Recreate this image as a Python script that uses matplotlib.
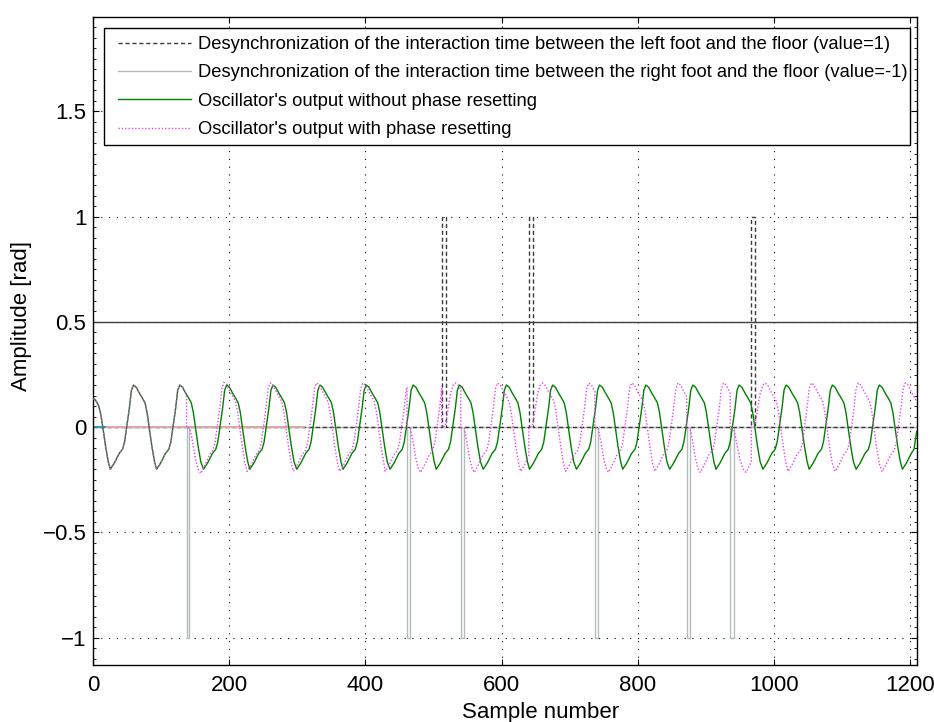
import matplotlib
matplotlib.use("Agg")
import matplotlib.pyplot as plt
from matplotlib.ticker import MultipleLocator
from matplotlib.patches import Rectangle

plt.rcParams['font.family'] = ['Liberation Sans', 'DejaVu Sans']

# ---------------- data ----------------
# desynchronization, left foot (value = 1)
left_x = [0, 512, 512, 518, 518, 640, 640, 646, 646, 967, 967, 973, 973, 1210]
left_y = [0, 0, 1, 1, 0, 0, 1, 1, 0, 0, 1, 1, 0, 0]

# desynchronization, right foot (value = -1)
right_x = [0, 137, 137, 141, 141, 461, 461, 466, 466, 540, 540, 545, 545,
           737, 737, 741, 741, 872, 872, 877, 877, 936, 936, 941, 941, 1210]
right_y = [0, 0, -1, -1, 0, 0, -1, -1, 0, 0, -1, -1, 0,
           0, -1, -1, 0, 0, -1, -1, 0, 0, -1, -1, 0, 0]

# horizontal reference at 0.5
ref_x = [0, 1210]
ref_y = [0.5, 0.5]

# short coloured traces lying on the zero line
cyan_x = [0, 17]
cyan_y = [0, 0]
pink_x = [17, 309]
pink_y = [0, 0]

# oscillator output without phase resetting (green)
green_x = [
    0, 2, 5, 8, 11, 14, 18, 22,
    25, 31, 38, 43, 46, 49, 53, 56, 59, 63, 68, 73, 76, 79, 82, 86, 90,
    93, 99, 106, 111, 114, 117, 121, 124, 127, 131, 136, 141, 144, 147, 150, 154, 158,
    162, 168, 175, 180, 183, 186, 190, 193, 196, 200, 205, 210, 213, 216, 219, 223, 227,
    230, 236, 243, 248, 251, 254, 258, 261, 264, 268, 273, 278, 281, 284, 287, 291, 295,
    299, 305, 312, 317, 320, 323, 327, 330, 333, 337, 342, 347, 350, 353, 356, 360, 364,
    367, 373, 380, 385, 388, 391, 395, 398, 401, 405, 410, 415, 418, 421, 424, 428, 432,
    436, 442, 449, 454, 457, 460, 464, 467, 470, 474, 479, 484, 487, 490, 493, 497, 501,
    504, 510, 517, 522, 525, 528, 532, 535, 538, 542, 547, 552, 555, 558, 561, 565, 569,
    573, 579, 586, 591, 594, 597, 601, 604, 607, 611, 616, 621, 624, 627, 630, 634, 638,
    641, 647, 654, 659, 662, 665, 669, 672, 675, 679, 684, 689, 692, 695, 698, 702, 706,
    710, 716, 723, 728, 731, 734, 738, 741, 744, 748, 753, 758, 761, 764, 767, 771, 775,
    778, 784, 791, 796, 799, 802, 806, 809, 812, 816, 821, 826, 829, 832, 835, 839, 843,
    847, 853, 860, 865, 868, 871, 875, 878, 881, 885, 890, 895, 898, 901, 904, 908, 912,
    915, 921, 928, 933, 936, 939, 943, 946, 949, 953, 958, 963, 966, 969, 972, 976, 980,
    984, 990, 997, 1002, 1005, 1008, 1012, 1015, 1018, 1022, 1027, 1032, 1035, 1038, 1041, 1045, 1049,
    1052, 1058, 1065, 1070, 1073, 1076, 1080, 1083, 1086, 1090, 1095, 1100, 1103, 1106, 1109, 1113, 1117,
    1121, 1127, 1134, 1139, 1142, 1145, 1149, 1152, 1155, 1159, 1164, 1169, 1172, 1175, 1178, 1182, 1186,
    1189, 1195, 1202, 1206, 1210,
]
green_y = [
    0.135, 0.133, 0.12, 0.10, 0.06, 0.0, -0.09, -0.165,
    -0.20, -0.17, -0.125, -0.105, -0.07, 0.0, 0.09, 0.175, 0.20, 0.19, 0.16, 0.133, 0.115, 0.07, 0.0, -0.09, -0.165,
    -0.20, -0.17, -0.125, -0.105, -0.07, 0.0, 0.09, 0.175, 0.20, 0.19, 0.16, 0.133, 0.115, 0.07, 0.0, -0.09, -0.165,
    -0.20, -0.17, -0.125, -0.105, -0.07, 0.0, 0.09, 0.175, 0.20, 0.19, 0.16, 0.133, 0.115, 0.07, 0.0, -0.09, -0.165,
    -0.20, -0.17, -0.125, -0.105, -0.07, 0.0, 0.09, 0.175, 0.20, 0.19, 0.16, 0.133, 0.115, 0.07, 0.0, -0.09, -0.165,
    -0.20, -0.17, -0.125, -0.105, -0.07, 0.0, 0.09, 0.175, 0.20, 0.19, 0.16, 0.133, 0.115, 0.07, 0.0, -0.09, -0.165,
    -0.20, -0.17, -0.125, -0.105, -0.07, 0.0, 0.09, 0.175, 0.20, 0.19, 0.16, 0.133, 0.115, 0.07, 0.0, -0.09, -0.165,
    -0.20, -0.17, -0.125, -0.105, -0.07, 0.0, 0.09, 0.175, 0.20, 0.19, 0.16, 0.133, 0.115, 0.07, 0.0, -0.09, -0.165,
    -0.20, -0.17, -0.125, -0.105, -0.07, 0.0, 0.09, 0.175, 0.20, 0.19, 0.16, 0.133, 0.115, 0.07, 0.0, -0.09, -0.165,
    -0.20, -0.17, -0.125, -0.105, -0.07, 0.0, 0.09, 0.175, 0.20, 0.19, 0.16, 0.133, 0.115, 0.07, 0.0, -0.09, -0.165,
    -0.20, -0.17, -0.125, -0.105, -0.07, 0.0, 0.09, 0.175, 0.20, 0.19, 0.16, 0.133, 0.115, 0.07, 0.0, -0.09, -0.165,
    -0.20, -0.17, -0.125, -0.105, -0.07, 0.0, 0.09, 0.175, 0.20, 0.19, 0.16, 0.133, 0.115, 0.07, 0.0, -0.09, -0.165,
    -0.20, -0.17, -0.125, -0.105, -0.07, 0.0, 0.09, 0.175, 0.20, 0.19, 0.16, 0.133, 0.115, 0.07, 0.0, -0.09, -0.165,
    -0.20, -0.17, -0.125, -0.105, -0.07, 0.0, 0.09, 0.175, 0.20, 0.19, 0.16, 0.133, 0.115, 0.07, 0.0, -0.09, -0.165,
    -0.20, -0.17, -0.125, -0.105, -0.07, 0.0, 0.09, 0.175, 0.20, 0.19, 0.16, 0.133, 0.115, 0.07, 0.0, -0.09, -0.165,
    -0.20, -0.17, -0.125, -0.105, -0.07, 0.0, 0.09, 0.175, 0.20, 0.19, 0.16, 0.133, 0.115, 0.07, 0.0, -0.09, -0.165,
    -0.20, -0.17, -0.125, -0.105, -0.07, 0.0, 0.09, 0.175, 0.20, 0.19, 0.16, 0.133, 0.115, 0.07, 0.0, -0.09, -0.165,
    -0.20, -0.17, -0.125, -0.105, -0.07, 0.0, 0.09, 0.175, 0.20, 0.19, 0.16, 0.133, 0.115, 0.07, 0.0, -0.09, -0.165,
    -0.20, -0.17, -0.125, -0.105, -0.02,
]

# oscillator output with phase resetting (magenta), (sample, value) pairs
magenta_points = [
    (0, 0.135), (2, 0.133), (5, 0.12), (8, 0.10), (11, 0.06), (14, 0.0), (18, -0.09), (22, -0.165),
    (25, -0.20), (31, -0.17), (38, -0.125), (43, -0.105), (46, -0.07), (49, 0.0), (53, 0.09), (56, 0.175),
    (59, 0.20), (63, 0.19), (68, 0.16), (73, 0.133), (76, 0.115), (79, 0.07), (82, 0.0), (86, -0.09), (90, -0.165),
    (93, -0.20), (99, -0.17), (106, -0.125), (111, -0.105), (114, -0.07), (117, 0.0), (121, 0.09), (124, 0.175),
    (127, 0.20), (131, 0.19), (136, 0.16), (137, 0.155),
    (137.01, 0.0), (142, -0.005), (146, -0.07), (150, -0.15), (154, -0.20), (158, -0.22),
    (164, -0.18), (171, -0.13), (176, -0.108), (179, -0.073), (182, 0.0), (186, 0.094), (189, 0.185),
    (192, 0.213), (196, 0.203), (201, 0.168), (206, 0.14), (209, 0.12), (212, 0.073), (215, 0.0), (219, -0.094), (223, -0.173),
    (226, -0.21), (232, -0.178), (239, -0.13), (244, -0.11), (247, -0.073), (250, 0.0), (254, 0.094), (257, 0.183),
    (260, 0.21), (264, 0.20), (269, 0.168), (274, 0.14), (277, 0.12), (280, 0.073), (283, 0.0), (287, -0.094), (291, -0.173),
    (294, -0.21), (300, -0.178), (307, -0.13), (312, -0.11), (315, -0.073), (318, 0.0), (322, 0.094), (325, 0.183),
    (328, 0.21), (332, 0.20), (337, 0.168), (342, 0.14), (345, 0.12), (348, 0.073), (351, 0.0), (355, -0.094), (359, -0.173),
    (362, -0.21), (368, -0.178), (375, -0.13), (380, -0.11), (383, -0.073), (386, 0.0), (390, 0.094), (393, 0.183),
    (396, 0.21), (400, 0.20), (405, 0.168), (410, 0.14), (413, 0.12), (416, 0.073), (419, 0.0), (423, -0.094), (427, -0.173),
    (429, -0.21), (435, -0.178), (442, -0.13), (447, -0.11), (450, -0.073), (453, 0.0), (457, 0.094), (460, 0.183), (461, 0.19),
    (461.01, 0.0), (466, -0.005), (470, -0.07), (474, -0.15), (478, -0.20), (481, -0.215),
    (487, -0.178), (494, -0.13), (499, -0.11), (502, -0.073), (505, 0.0), (509, 0.094), (512, 0.183),
    (512.01, 0.0), (517, 0.005), (521, 0.08), (525, 0.16), (529, 0.20), (532, 0.21),
    (536, 0.20), (540, 0.18),
    (540.01, 0.0), (545, -0.005), (549, -0.07), (553, -0.15), (557, -0.20), (560, -0.215),
    (566, -0.178), (573, -0.13), (578, -0.11), (581, -0.073), (584, 0.0), (588, 0.094), (591, 0.183),
    (594, 0.21), (598, 0.20), (603, 0.168), (608, 0.14), (611, 0.12), (614, 0.073), (617, 0.0), (621, -0.094), (625, -0.173),
    (628, -0.21), (634, -0.178), (640, -0.135),
    (640.01, 0.0), (645, 0.005), (649, 0.08), (653, 0.16), (657, 0.20), (660, 0.21),
    (664, 0.20), (669, 0.168), (674, 0.14), (677, 0.12), (680, 0.073), (683, 0.0), (687, -0.094), (691, -0.173),
    (694, -0.21), (700, -0.178), (707, -0.13), (712, -0.11), (715, -0.073), (718, 0.0), (722, 0.094), (725, 0.183),
    (728, 0.21), (732, 0.20), (737, 0.168),
    (737.01, 0.0), (742, -0.005), (746, -0.07), (750, -0.15), (754, -0.20), (757, -0.215),
    (763, -0.178), (770, -0.13), (775, -0.11), (778, -0.073), (781, 0.0), (785, 0.094), (788, 0.183),
    (791, 0.21), (795, 0.20), (800, 0.168), (805, 0.14), (808, 0.12), (811, 0.073), (814, 0.0), (818, -0.094), (822, -0.173),
    (825, -0.21), (831, -0.178), (838, -0.13), (843, -0.11), (846, -0.073), (849, 0.0), (853, 0.094), (856, 0.183),
    (859, 0.21), (863, 0.20), (868, 0.168), (872, 0.145),
    (872.01, 0.0), (877, -0.005), (881, -0.07), (885, -0.15), (889, -0.20), (892, -0.215),
    (898, -0.178), (905, -0.13), (910, -0.11), (913, -0.073), (916, 0.0), (920, 0.094), (923, 0.183),
    (926, 0.21), (930, 0.20), (936, 0.16),
    (936.01, 0.0), (941, -0.005), (945, -0.07), (950, -0.15), (955, -0.20), (959, -0.215),
    (965, -0.178), (967, -0.16),
    (967.01, 0.0), (972, 0.005), (976, 0.08), (980, 0.16), (984, 0.20), (987, 0.21),
    (991, 0.20), (996, 0.168), (1001, 0.14), (1004, 0.12), (1007, 0.073), (1010, 0.0), (1014, -0.094), (1018, -0.173),
    (1021, -0.21), (1027, -0.178), (1034, -0.13), (1039, -0.11), (1042, -0.073), (1045, 0.0), (1049, 0.094), (1052, 0.183),
    (1055, 0.21), (1059, 0.20), (1064, 0.168), (1069, 0.14), (1072, 0.12), (1075, 0.073), (1078, 0.0), (1082, -0.094), (1086, -0.173),
    (1090, -0.21), (1096, -0.178), (1103, -0.13), (1108, -0.11), (1111, -0.073), (1114, 0.0), (1118, 0.094), (1121, 0.183),
    (1124, 0.21), (1128, 0.20), (1133, 0.168), (1138, 0.14), (1141, 0.12), (1144, 0.073), (1147, 0.0), (1151, -0.094), (1155, -0.173),
    (1159, -0.21), (1165, -0.178), (1172, -0.13), (1177, -0.11), (1180, -0.073), (1183, 0.0), (1187, 0.094), (1190, 0.183),
    (1193, 0.21), (1197, 0.20), (1202, 0.168), (1207, 0.14), (1210, 0.12),
]
magenta_x = [p[0] for p in magenta_points]
magenta_y = [p[1] for p in magenta_points]

labels = [
    "Desynchronization of the interaction time between the left foot and the floor (value=1)",
    "Desynchronization of the interaction time between the right foot and the floor (value=-1)",
    "Oscillator's output without phase resetting",
    "Oscillator's output with phase resetting",
]
x_ticks = [0, 200, 400, 600, 800, 1000, 1200]
y_ticks = [-1, -0.5, 0, 0.5, 1, 1.5]
y_ticklabels = ["\u22121", "\u22120.5", "0", "0.5", "1", "1.5"]

# ---------------- figure ----------------
W, H = 934, 722
fig = plt.figure(figsize=(W / 100, H / 100), dpi=100)
ax = fig.add_axes([93.3 / W, (H - 665) / H, (916.7 - 93.3) / W, (665 - 16.7) / H])

l_right, = ax.plot(right_x, right_y, color='#b4bcbc', lw=1.0, zorder=2)
l_left, = ax.plot(left_x, left_y, color='#3a3a3a', lw=1.0, ls=(0, (3, 2)), zorder=2.1)
ax.plot(ref_x, ref_y, color='#404040', lw=1.0, zorder=2.2)
ax.plot(pink_x, pink_y, color='#e0a8a8', lw=1.4, zorder=2.3)
ax.plot(cyan_x, cyan_y, color='#2aa0b0', lw=1.4, zorder=2.3)
l_green, = ax.plot(green_x, green_y, color='#008000', lw=1.0, zorder=3)
l_mag, = ax.plot(magenta_x, magenta_y, color='#ee40ee', lw=1.0, ls=(0, (1, 1.4)), zorder=3.1)

ax.set_xlim(0, 1210)
ax.set_ylim(-1.13, 1.95)
ax.set_xticks(x_ticks)
ax.set_yticks(y_ticks)
ax.set_yticklabels(y_ticklabels)
ax.yaxis.set_minor_locator(MultipleLocator(0.05))
ax.tick_params(which='both', direction='in', top=True, right=True, labelsize=16)
ax.tick_params(axis='y', pad=5)
ax.tick_params(axis='x', pad=7)
ax.tick_params(which='major', length=4.5, width=0.8)
ax.tick_params(which='minor', length=2.2, width=0.6)
ax.tick_params(axis='x', which='minor', bottom=False, top=False)
for s in ax.spines.values():
    s.set_linewidth(1.0)

ax.grid(True, which='major', color='black', lw=0.8, ls=(0, (1, 6)))
ax.set_axisbelow(True)

ax.set_xlabel("Sample number", fontsize=16)
ax.set_ylabel("Amplitude [rad]", fontsize=16)
ax.xaxis.set_label_coords((541 - 93.3) / 823.4, (665 - 702) / 648.3)
ax.yaxis.set_label_coords((32.5 - 93.3) / 823.4, (665 - 316) / 648.3)

# legend: entries without frame, frame drawn as its own rectangle beneath them
fs_leg = 13.2
fs_px = fs_leg * 100 / 72
leg = ax.legend([l_left, l_right, l_green, l_mag], labels,
                loc='upper left', bbox_to_anchor=(118 / W, 1 - 36 / H),
                bbox_transform=fig.transFigure, borderaxespad=0, borderpad=0,
                fontsize=fs_leg, handlelength=73 / fs_px,
                handletextpad=7 / fs_px,
                labelspacing=0.62, frameon=False)
leg.set_zorder(10)
frame = Rectangle((104 / W, 1 - 144.7 / H), (910 - 104) / W, (144.7 - 28.3) / H,
                  transform=fig.transFigure, facecolor='white', edgecolor='black',
                  lw=1.0, zorder=9, clip_on=False)
ax.add_patch(frame)

fig.savefig("out.png", dpi=100)
